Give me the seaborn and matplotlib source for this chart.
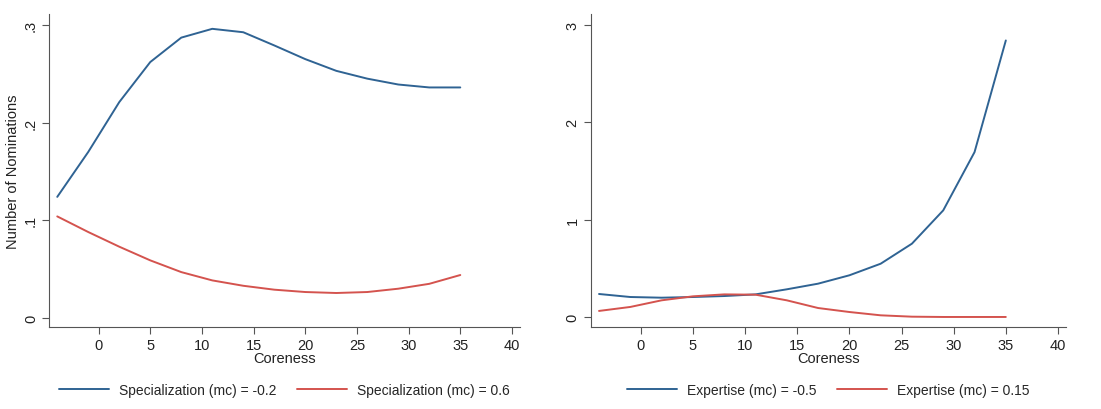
import pandas as pd
import matplotlib.pyplot as plt
import seaborn as sns

# Values

coreness = [-4, -1, 2, 5, 8, 11, 14, 17, 20, 23, 26, 29, 32, 35]

spec_low = [0.124, 0.170, 0.221, 0.262, 0.287, 0.296, 0.2925, 0.279,
            0.265, 0.253, 0.245, 0.239, 0.236, 0.236]
spec_high = [0.104, 0.088, 0.073, 0.059, 0.047, 0.0385, 0.033, 0.029,
             0.0266, 0.0256, 0.0266, 0.030, 0.035, 0.044]

exp_low = [0.236, 0.205, 0.198, 0.205, 0.215, 0.232, 0.284, 0.342,
           0.428, 0.547, 0.753, 1.095, 1.693, 2.84]
exp_high = [0.062, 0.103, 0.171, 0.212, 0.232, 0.229, 0.171, 0.092,
            0.051, 0.017, 0.003, 0.0, 0.0, 0.0]

spec_labels = ["Specialization (mc) = -0.2", "Specialization (mc) = 0.6"]
exp_labels = ["Expertise (mc) = -0.5", "Expertise (mc) = 0.15"]

left_yticks = [0, 0.1, 0.2, 0.3]
left_yticklabels = ["0", ".1", ".2", ".3"]
right_yticks = [0, 1, 2, 3]
right_yticklabels = ["0", "1", "2", "3"]
xticks = [0, 5, 10, 15, 20, 25, 30, 35, 40]

# Long-form tables for seaborn

df_spec = pd.DataFrame({
    "Coreness": coreness * 2,
    "value": spec_low + spec_high,
    "group": [spec_labels[0]] * len(coreness) + [spec_labels[1]] * len(coreness),
})
df_exp = pd.DataFrame({
    "Coreness": coreness * 2,
    "value": exp_low + exp_high,
    "group": [exp_labels[0]] * len(coreness) + [exp_labels[1]] * len(coreness),
})

sns.set_style("ticks")
plt.rcParams['font.family'] = ['Liberation Sans', 'DejaVu Sans']
fs = 10.5
legend_fs = 10.0

colors = ["#2f6393", "#d4534e"]

fig = plt.figure(figsize=(11.01, 4.10), dpi=100)
ax1 = fig.add_axes([0.0445, 0.2, 0.428, 0.763])
ax2 = fig.add_axes([0.5365, 0.2, 0.432, 0.763])

panels = [
    (ax1, df_spec, spec_labels, left_yticks, left_yticklabels, (-0.0092, 0.311)),
    (ax2, df_exp, exp_labels, right_yticks, right_yticklabels, (-0.103, 3.11)),
]

for ax, df, labels, yt, ytl, ylim in panels:
    sns.lineplot(data=df, x="Coreness", y="value", hue="group",
                 hue_order=labels, palette=colors, linewidth=1.4, ax=ax)
    ax.set_xlim(-4.8, 40.8)
    ax.set_ylim(*ylim)
    ax.set_xticks(xticks)
    ax.set_yticks(yt)
    ax.set_yticklabels(ytl, rotation=90, va="center")
    ax.tick_params(axis="both", length=5, width=0.8, color="#555555",
                   labelcolor="#222222", labelsize=fs, pad=3)
    ax.set_xlabel("Coreness", fontsize=fs, labelpad=-1, color="#222222")
    ax.set_ylabel("")
    for s in ["top", "right"]:
        ax.spines[s].set_visible(False)
    for s in ["left", "bottom"]:
        ax.spines[s].set_color("#555555")
        ax.spines[s].set_linewidth(0.8)
    ax.legend(loc="center", bbox_to_anchor=(0.5, -0.2), ncol=2, frameon=False,
              handlelength=3.6, columnspacing=1.5, handletextpad=0.7,
              fontsize=legend_fs)

ax1.set_ylabel("Number of Nominations", fontsize=fs, labelpad=3, color="#222222")

plt.savefig("out.png", dpi=100)
